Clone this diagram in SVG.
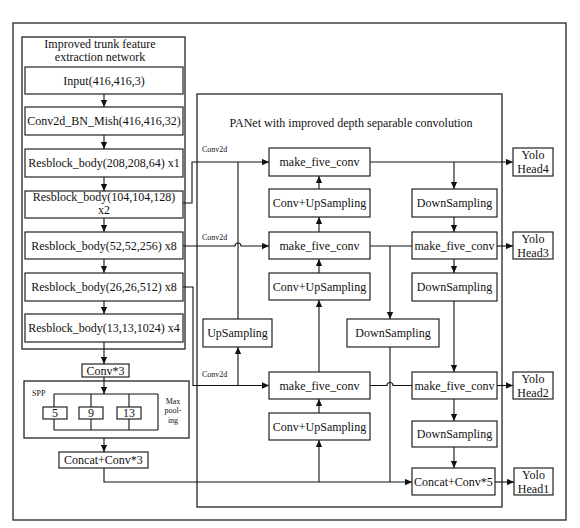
<svg xmlns="http://www.w3.org/2000/svg" width="580" height="528" viewBox="0 0 580 528" font-family="Liberation Serif, Times New Roman, DejaVu Serif, serif">
<defs>
<style>
.frame{fill:none;stroke:#333;stroke-width:1.4}
.box{fill:#fff;stroke:#222;stroke-width:1.2}
.t{font-size:12px;fill:#111;text-anchor:middle}
.s{font-size:8px;fill:#111}
.ln{fill:none;stroke:#111;stroke-width:1.1}
.ar{marker-end:url(#ah)}
</style>
<marker id="ah" viewBox="0 0 10 10" refX="10" refY="5" markerWidth="7" markerHeight="7" orient="auto" markerUnits="userSpaceOnUse"><path d="M0,0.5 L10,5 L0,9.5 z" fill="#111"/></marker>
</defs>
<rect width="580" height="528" fill="#fff"/>
<g id="frames">
<rect class="frame" x="13" y="23" width="553" height="497"/>
<rect class="frame" x="22" y="37" width="163" height="312"/>
<rect class="frame" x="197" y="94" width="305" height="413"/>
<rect class="frame" x="24" y="381" width="165" height="57"/>
<text class="t" x="100" y="48">Improved trunk feature</text>
<text class="t" x="100" y="61">extraction network</text>
<text class="t" x="351" y="127">PANet with improved depth separable convolution</text>
<text class="s" x="32" y="396">SPP</text>
<text class="s" x="173" y="404" text-anchor="middle">Max</text>
<text class="s" x="173" y="413" text-anchor="middle">pool-</text>
<text class="s" x="173" y="423" text-anchor="middle">ing</text>
<text class="s" x="202" y="152">Conv2d</text>
<text class="s" x="202" y="240">Conv2d</text>
<text class="s" x="202" y="377">Conv2d</text>
</g>
<g id="connectors">
<path class="ln ar" d="M104,94 V107"/>
<path class="ln ar" d="M104,135 V149"/>
<path class="ln ar" d="M104,177 V191"/>
<path class="ln ar" d="M104,218 V232"/>
<path class="ln ar" d="M104,259 V273"/>
<path class="ln ar" d="M104,301 V314"/>
<path class="ln ar" d="M104,342 V364"/>
<path class="ln ar" d="M104,377 V394"/>
<path class="ln ar" d="M104,438 V452"/>
<path class="ln" d="M54,394 H158 M54,430 H158 M54,394 V430 M91,394 V430 M129,394 V430 M158,394 V430"/>
<path class="ln ar" d="M104,468 V482 H412"/>
<path class="ln ar" d="M319,482 V440"/>
<path class="ln" d="M390,347 V482"/>
<path class="ln ar" d="M183,203 H192 V162 H269"/>
<path class="ln" d="M238,319 V162"/>
<path class="ln ar" d="M183,246 H235 A3,3 0 0 1 241,246 H269"/>
<path class="ln ar" d="M183,287 H193 V385.5 H269"/>
<path class="ln ar" d="M238,385.5 V347"/>
<path class="ln ar" d="M319,413 V399"/>
<path class="ln ar" d="M319,372 V300"/>
<path class="ln ar" d="M319,273 V259"/>
<path class="ln ar" d="M319,232 V217"/>
<path class="ln ar" d="M319,189 V176"/>
<path class="ln ar" d="M370,162 H513"/>
<path class="ln ar" d="M454,162 V189"/>
<path class="ln ar" d="M454,217 V232"/>
<path class="ln" d="M370,246 H412"/>
<path class="ln ar" d="M390,246 V319"/>
<path class="ln ar" d="M497,246 H513"/>
<path class="ln ar" d="M454,259 V273"/>
<path class="ln ar" d="M454,301 V372"/>
<path class="ln" d="M370,385.5 H387 A3,3 0 0 1 393,385.5 H412"/>
<path class="ln ar" d="M497,385.5 H513"/>
<path class="ln ar" d="M454,399 V421"/>
<path class="ln ar" d="M454,447 V468"/>
<path class="ln ar" d="M495,482 H514"/>
</g>
<g id="input"><rect class="box" x="25" y="67" width="158" height="27"/><text class="t" x="104" y="85">Input(416,416,3)</text></g>
<g id="conv2d"><rect class="box" x="25" y="107" width="158" height="28"/><text class="t" x="104" y="125">Conv2d_BN_Mish(416,416,32)</text></g>
<g id="res1"><rect class="box" x="25" y="149" width="158" height="28"/><text class="t" x="104" y="167">Resblock_body(208,208,64) x1</text></g>
<g id="res2"><rect class="box" x="25" y="191" width="158" height="27"/><text class="t" x="104" y="201">Resblock_body(104,104,128)</text><text class="t" x="104" y="214">x2</text></g>
<g id="res3"><rect class="box" x="25" y="232" width="158" height="27"/><text class="t" x="104" y="250">Resblock_body(52,52,256) x8</text></g>
<g id="res4"><rect class="box" x="25" y="273" width="158" height="28"/><text class="t" x="104" y="291">Resblock_body(26,26,512) x8</text></g>
<g id="res5"><rect class="box" x="25" y="314" width="158" height="28"/><text class="t" x="104" y="332">Resblock_body(13,13,1024) x4</text></g>
<g id="conv3"><rect class="box" x="82" y="364" width="47" height="13"/><text class="t" x="105.5" y="375">Conv*3</text></g>
<g id="pool5"><rect class="box" x="43" y="407" width="24" height="12"/><text class="t" x="55" y="417">5</text></g>
<g id="pool9"><rect class="box" x="79" y="407" width="24" height="12"/><text class="t" x="91" y="417">9</text></g>
<g id="pool13"><rect class="box" x="117" y="407" width="24" height="12"/><text class="t" x="129" y="417">13</text></g>
<g id="concat3"><rect class="box" x="59" y="452" width="89" height="16"/><text class="t" x="103.5" y="464">Concat+Conv*3</text></g>
<g id="mfc1"><rect class="box" x="269" y="148" width="101" height="28"/><text class="t" x="319.5" y="166">make_five_conv</text></g>
<g id="cu1"><rect class="box" x="269" y="189" width="101" height="28"/><text class="t" x="319.5" y="207">Conv+UpSampling</text></g>
<g id="mfc2"><rect class="box" x="269" y="232" width="101" height="27"/><text class="t" x="319.5" y="250">make_five_conv</text></g>
<g id="cu2"><rect class="box" x="269" y="273" width="101" height="27"/><text class="t" x="319.5" y="291">Conv+UpSampling</text></g>
<g id="up"><rect class="box" x="203" y="319" width="69" height="28"/><text class="t" x="237.5" y="337">UpSampling</text></g>
<g id="mfc3"><rect class="box" x="269" y="372" width="101" height="27"/><text class="t" x="319.5" y="390">make_five_conv</text></g>
<g id="cu3"><rect class="box" x="269" y="413" width="101" height="27"/><text class="t" x="319.5" y="431">Conv+UpSampling</text></g>
<g id="dsmid"><rect class="box" x="347" y="319" width="92" height="28"/><text class="t" x="393" y="337">DownSampling</text></g>
<g id="ds1"><rect class="box" x="412" y="189" width="85" height="28"/><text class="t" x="454.5" y="207">DownSampling</text></g>
<g id="mfcr1"><rect class="box" x="412" y="232" width="85" height="27"/><text class="t" x="454.5" y="250">make_five_conv</text></g>
<g id="ds2"><rect class="box" x="412" y="273" width="85" height="28"/><text class="t" x="454.5" y="291">DownSampling</text></g>
<g id="mfcr2"><rect class="box" x="412" y="372" width="85" height="27"/><text class="t" x="454.5" y="390">make_five_conv</text></g>
<g id="ds3"><rect class="box" x="412" y="421" width="85" height="26"/><text class="t" x="454.5" y="438">DownSampling</text></g>
<g id="concat5"><rect class="box" x="412" y="468" width="83" height="27"/><text class="t" x="453.5" y="486">Concat+Conv*5</text></g>
<g id="yh4"><rect class="box" x="513" y="148" width="40" height="28"/><text class="t" x="533" y="159">Yolo</text><text class="t" x="533" y="173">Head4</text></g>
<g id="yh3"><rect class="box" x="513" y="232" width="40" height="27"/><text class="t" x="533" y="243">Yolo</text><text class="t" x="533" y="257">Head3</text></g>
<g id="yh2"><rect class="box" x="513" y="372" width="40" height="27"/><text class="t" x="533" y="383">Yolo</text><text class="t" x="533" y="397">Head2</text></g>
<g id="yh1"><rect class="box" x="514" y="468" width="39" height="27"/><text class="t" x="533.5" y="479">Yolo</text><text class="t" x="533.5" y="493">Head1</text></g>
</svg>
